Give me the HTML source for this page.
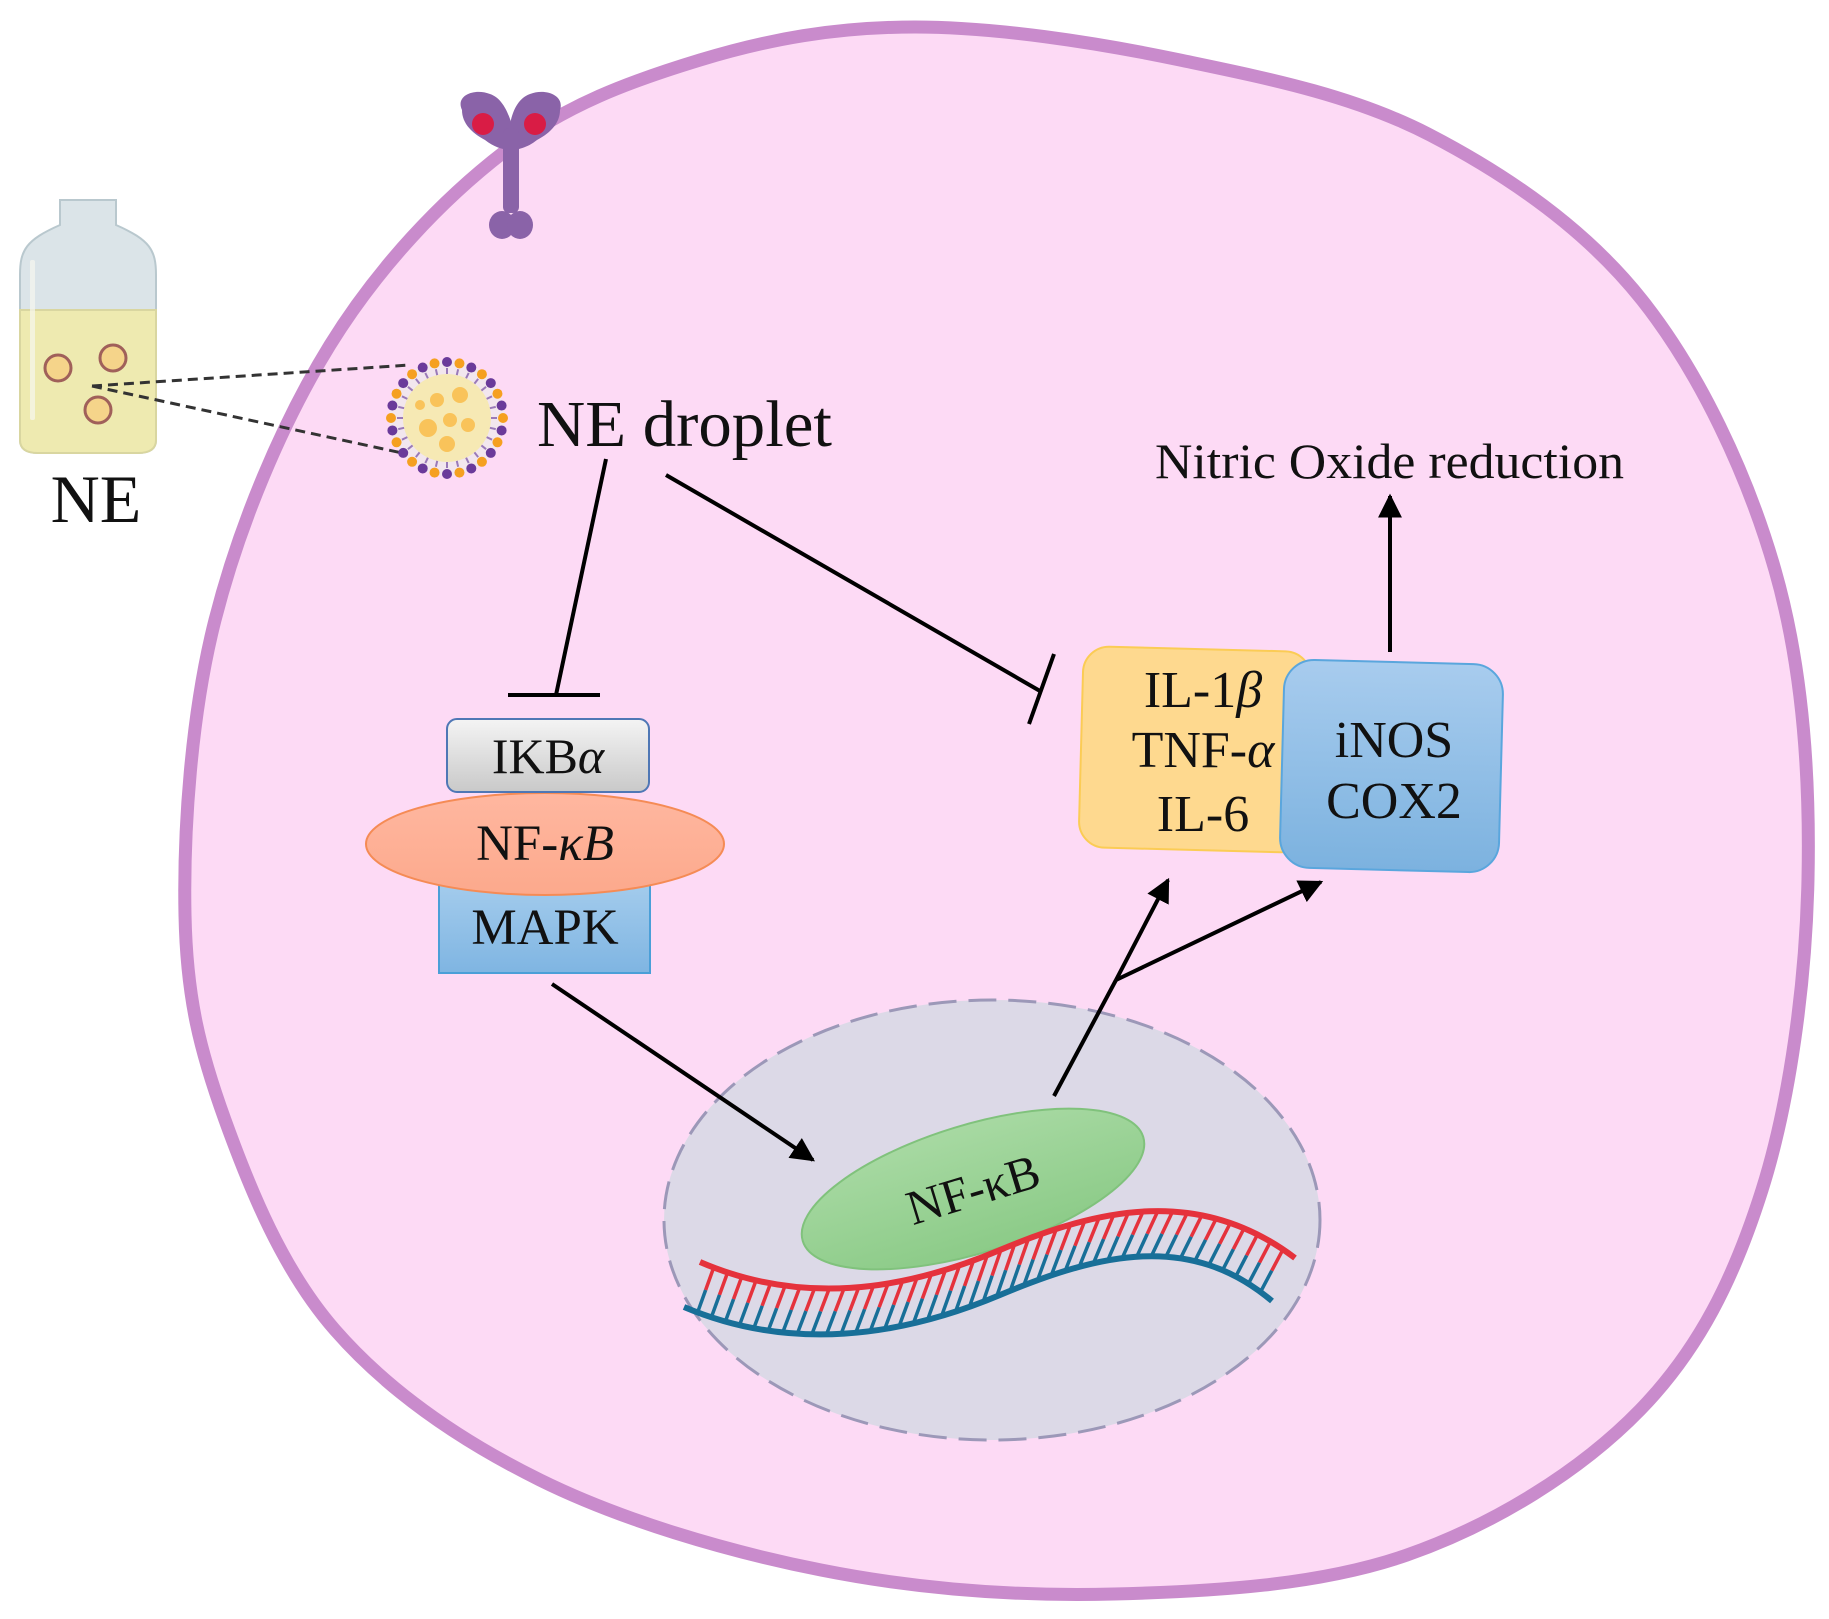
<!DOCTYPE html>
<html><head><meta charset="utf-8"><style>
html,body{margin:0;padding:0;background:#fff;}
svg{display:block;}
text{font-family:"Liberation Serif",serif;fill:#111;}
</style></head><body>
<svg id="s" width="1829" height="1619" viewBox="0 0 1829 1619" xmlns="http://www.w3.org/2000/svg">
<defs>
<linearGradient id="gIk" x1="0" y1="0" x2="0" y2="1"><stop offset="0" stop-color="#f4f4f4"/><stop offset="1" stop-color="#c9c9c9"/></linearGradient>
<linearGradient id="gMa" x1="0" y1="0" x2="0" y2="1"><stop offset="0" stop-color="#a9cfee"/><stop offset="1" stop-color="#7fb5e2"/></linearGradient>
<linearGradient id="gBl" x1="0" y1="0" x2="0" y2="1"><stop offset="0" stop-color="#a8ccee"/><stop offset="1" stop-color="#7cb2df"/></linearGradient>
<linearGradient id="gNf" x1="0" y1="0" x2="0" y2="1"><stop offset="0" stop-color="#ffb7a0"/><stop offset="1" stop-color="#fca98c"/></linearGradient>
<linearGradient id="gGr" x1="0" y1="0" x2="0" y2="1"><stop offset="0" stop-color="#a7d9a2"/><stop offset="1" stop-color="#8ccb88"/></linearGradient>
<marker id="ah" viewBox="0 0 10 10" refX="9" refY="5" markerWidth="6" markerHeight="6" orient="auto"><path d="M0,0 L10,5 L0,10 z" fill="#000"/></marker>
</defs>

<path id="cell" d="" fill="#fddaf5" stroke="#c98bcc" stroke-width="13"/>

<g fill="#8a63a8">
<path d="M462,110 C455,95 475,88 490,94 C502,98 508,112 512,125 L512,150 C505,150 495,148 485,140 C470,132 462,122 462,110 Z"/>
<path d="M560,110 C565,95 545,88 530,94 C518,98 512,112 510,125 L510,150 C517,150 527,148 537,140 C552,132 560,122 560,110 Z"/>
<rect x="503" y="128" width="16" height="85" rx="6"/>
<ellipse cx="502" cy="225" rx="13" ry="14"/><ellipse cx="520" cy="225" rx="13" ry="14"/>
</g>
<circle cx="483" cy="124" r="11" fill="#d91c45"/><circle cx="535" cy="124" r="11" fill="#d91c45"/>

<path d="M60,200 L116,200 L116,225 C150,240 156,250 156,275 L156,440 C156,450 148,453 138,453 L38,453 C28,453 20,450 20,440 L20,275 C20,250 26,240 60,225 Z" fill="#dbe4e8" stroke="#b9c8ce" stroke-width="2"/>
<path d="M20,310 L156,310 L156,440 C156,450 148,453 138,453 L38,453 C28,453 20,450 20,440 Z" fill="#eeeab0" stroke="#d9d6a0" stroke-width="2"/>
<rect x="30" y="260" width="5" height="160" rx="2" fill="#f7f7f0" opacity="0.7"/>
<g fill="#f5d48a" stroke="#a0605a" stroke-width="3">
<circle cx="58" cy="368" r="13"/><circle cx="113" cy="358" r="13"/><circle cx="98" cy="410" r="13"/>
</g>
<text x="96" y="522" font-size="68" text-anchor="middle">NE</text>

<g stroke="#333" stroke-width="3" stroke-dasharray="10,6" fill="none">
<line x1="92" y1="386" x2="410" y2="365"/><line x1="92" y1="386" x2="402" y2="453"/>
</g>

<circle cx="447" cy="418" r="58" fill="#f2e6ee"/>
<circle cx="447" cy="418" r="44" fill="#f6e9b4"/>
<g id="dots"></g>
<g fill="#f9c35a">
<circle cx="437" cy="400" r="7"/><circle cx="460" cy="395" r="8"/><circle cx="450" cy="420" r="7"/><circle cx="428" cy="428" r="9"/><circle cx="468" cy="425" r="7"/><circle cx="447" cy="444" r="8"/><circle cx="420" cy="405" r="5"/>
</g>
<text x="537" y="446" font-size="66" textLength="295" lengthAdjust="spacingAndGlyphs">NE droplet</text>

<ellipse cx="992" cy="1220" rx="328" ry="220" fill="#dcd9e7" stroke="#9c98b8" stroke-width="3" stroke-dasharray="28,12"/>
<g transform="rotate(-17 973 1189)">
<ellipse cx="973" cy="1189" rx="178" ry="64" fill="url(#gGr)" stroke="#80c27c" stroke-width="2"/>
<text x="973" y="1206" font-size="49" text-anchor="middle">NF-κB</text>
</g>
<g id="rungs"></g>
<path id="red" d="M700,1262 C800,1305 900,1292 1000,1250 S1200,1186 1295,1258" stroke="#e5323c" stroke-width="6" fill="none"/>
<path id="blue" d="M684,1307 C790,1352 900,1337 1000,1295 S1190,1232 1272,1301" stroke="#186f98" stroke-width="6" fill="none"/>

<g stroke="#000" stroke-width="4" fill="none">
<line x1="606" y1="459" x2="556" y2="695"/>
<line x1="508" y1="695" x2="600" y2="695"/>
<line x1="666" y1="475" x2="1040" y2="691"/>
<line x1="1054" y1="654" x2="1029" y2="724"/>
</g>

<rect x="439" y="870" width="211" height="103" fill="url(#gMa)" stroke="#4a9fd8" stroke-width="2"/>
<ellipse cx="545" cy="844" rx="179" ry="51" fill="url(#gNf)" stroke="#f58b55" stroke-width="2"/>
<rect x="447" y="719" width="202" height="73" rx="10" fill="url(#gIk)" stroke="#4f77b5" stroke-width="2"/>
<text x="548" y="773" font-size="50" text-anchor="middle">IKB<tspan font-style="italic">α</tspan></text>
<text x="545" y="860" font-size="51" text-anchor="middle">NF-<tspan font-style="italic">κB</tspan></text>
<text x="545" y="944" font-size="51" text-anchor="middle">MAPK</text>

<rect x="1081" y="649" width="228" height="201" rx="26" fill="#fed98f" stroke="#fbcc55" stroke-width="2" transform="rotate(1.5 1195 750)"/>
<rect x="1282" y="662" width="219" height="208" rx="30" fill="url(#gBl)" stroke="#5aa6dd" stroke-width="2" transform="rotate(1.5 1391 766)"/>
<g font-size="52" text-anchor="middle">
<text x="1203" y="707">IL-1<tspan font-style="italic">β</tspan></text>
<text x="1203" y="767">TNF-<tspan font-style="italic">α</tspan></text>
<text x="1203" y="831">IL-6</text>
<text x="1394" y="757">iNOS</text>
<text x="1394" y="818">COX2</text>
</g>
<text x="1155" y="478" font-size="50" textLength="469" lengthAdjust="spacingAndGlyphs">Nitric  Oxide reduction</text>

<g stroke="#000" stroke-width="4" fill="none">
<line x1="1390" y1="652" x2="1390" y2="496" marker-end="url(#ah)"/>
<line x1="552" y1="984" x2="813" y2="1160" marker-end="url(#ah)"/>
<line x1="1054" y1="1096" x2="1116" y2="980"/>
<line x1="1116" y1="980" x2="1168" y2="880" marker-end="url(#ah)"/>
<line x1="1116" y1="980" x2="1321" y2="882" marker-end="url(#ah)"/>
</g>
</svg>
<script>
(function(){
var ns="http://www.w3.org/2000/svg";
var P=[[915,27],[1180,60],[1430,135],[1642,300],[1775,570],[1808,879],[1762,1190],[1640,1410],[1407,1555],[1114,1594],[821,1570],[540,1480],[335,1330],[225,1120],[185,915],[215,620],[330,345],[504,152],[700,60]];
var n=P.length,d="M"+P[0][0]+","+P[0][1];
for(var i=0;i<n;i++){var p0=P[(i-1+n)%n],p1=P[i],p2=P[(i+1)%n],p3=P[(i+2)%n];
d+=" C"+(p1[0]+(p2[0]-p0[0])/6)+","+(p1[1]+(p2[1]-p0[1])/6)+" "+(p2[0]-(p3[0]-p1[0])/6)+","+(p2[1]-(p3[1]-p1[1])/6)+" "+p2[0]+","+p2[1];}
document.getElementById("cell").setAttribute("d",d+"Z");
var r=document.getElementById("red"),b=document.getElementById("blue"),g=document.getElementById("rungs");
var lr=r.getTotalLength(),lb=b.getTotalLength(),m=42;
for(var i=1;i<m;i++){var t=i/m;var p=r.getPointAtLength(lr*t),q=b.getPointAtLength(lb*t);
var mx=(p.x+q.x)/2,my=(p.y+q.y)/2;
var l1=document.createElementNS(ns,"line");l1.setAttribute("x1",p.x);l1.setAttribute("y1",p.y);l1.setAttribute("x2",mx);l1.setAttribute("y2",my);l1.setAttribute("stroke","#e5323c");l1.setAttribute("stroke-width","3.5");g.appendChild(l1);
var l2=document.createElementNS(ns,"line");l2.setAttribute("x1",mx);l2.setAttribute("y1",my);l2.setAttribute("x2",q.x);l2.setAttribute("y2",q.y);l2.setAttribute("stroke","#186f98");l2.setAttribute("stroke-width","3.5");g.appendChild(l2);}
var dd=document.getElementById("dots");
for(var k=0;k<28;k++){var a=k/28*Math.PI*2;
var c=document.createElementNS(ns,"circle");c.setAttribute("cx",447+56*Math.cos(a));c.setAttribute("cy",418+56*Math.sin(a));c.setAttribute("r",5);c.setAttribute("fill",k%2?"#6a3a9a":"#f5a020");dd.appendChild(c);
var s=document.createElementNS(ns,"line");s.setAttribute("x1",447+50*Math.cos(a));s.setAttribute("y1",418+50*Math.sin(a));s.setAttribute("x2",447+44*Math.cos(a));s.setAttribute("y2",418+44*Math.sin(a));s.setAttribute("stroke","#9a7ab8");s.setAttribute("stroke-width","2");dd.appendChild(s);}
})();
</script>
</body></html>
